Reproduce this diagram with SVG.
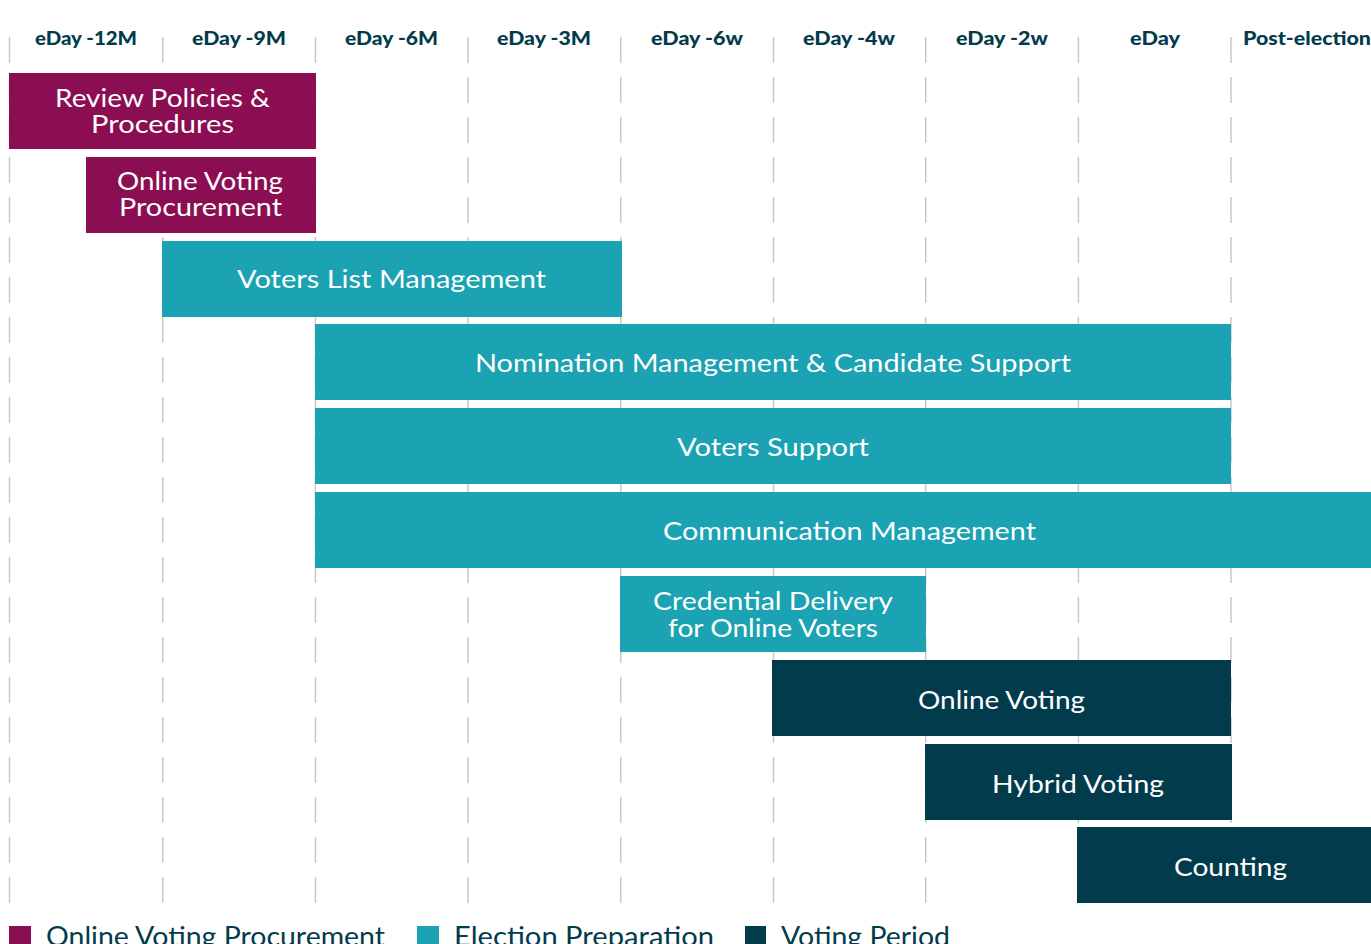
<svg xmlns="http://www.w3.org/2000/svg" width="1371" height="944" viewBox="0 0 1371 944">
<style>
.grid line{stroke:#c8c8c8;stroke-width:1.5;stroke-dasharray:26 14}
.hd{font-family:Lato,"Liberation Sans",sans-serif;font-weight:900;font-size:19px;fill:#023b4b;text-anchor:middle}
.lb{font-family:Lato,"Liberation Sans",sans-serif;font-size:25px;fill:#ffffff;text-anchor:middle}
.lg{font-family:Lato,"Liberation Sans",sans-serif;font-size:26px;fill:#023b4b}
.p{fill:#8b0d52}.t{fill:#1ba2b3}.d{fill:#023b4b}
</style>
<rect width="1371" height="944" fill="#ffffff"/>
<g id="grid" class="grid">
<line x1="9.5" y1="37" x2="9.5" y2="903"/>
<line x1="162.7" y1="37" x2="162.7" y2="903"/>
<line x1="315.4" y1="37" x2="315.4" y2="903"/>
<line x1="468.1" y1="37" x2="468.1" y2="903"/>
<line x1="620.8" y1="37" x2="620.8" y2="903"/>
<line x1="773.5" y1="37" x2="773.5" y2="903"/>
<line x1="925.7" y1="37" x2="925.7" y2="903"/>
<line x1="1078.4" y1="37" x2="1078.4" y2="903"/>
<line x1="1231" y1="37" x2="1231" y2="903"/>
</g>
<g id="headers">
<text class="hd" x="86" y="45" textLength="102" lengthAdjust="spacingAndGlyphs">eDay -12M</text>
<text class="hd" x="239" y="45" textLength="94" lengthAdjust="spacingAndGlyphs">eDay -9M</text>
<text class="hd" x="391.5" y="45" textLength="93" lengthAdjust="spacingAndGlyphs">eDay -6M</text>
<text class="hd" x="544" y="45" textLength="94" lengthAdjust="spacingAndGlyphs">eDay -3M</text>
<text class="hd" x="697" y="45" textLength="92" lengthAdjust="spacingAndGlyphs">eDay -6w</text>
<text class="hd" x="849" y="45" textLength="92" lengthAdjust="spacingAndGlyphs">eDay -4w</text>
<text class="hd" x="1002" y="45" textLength="92" lengthAdjust="spacingAndGlyphs">eDay -2w</text>
<text class="hd" x="1155" y="45" textLength="50" lengthAdjust="spacingAndGlyphs">eDay</text>
<text class="hd" x="1307" y="45" textLength="128" lengthAdjust="spacingAndGlyphs">Post-election</text>
</g>
<g id="review">
<rect class="p" x="9" y="73" width="307" height="76"/>
<text class="lb" x="162.5" y="107" textLength="215" lengthAdjust="spacingAndGlyphs">Review Policies &amp;</text>
<text class="lb" x="162.5" y="133" textLength="143" lengthAdjust="spacingAndGlyphs">Procedures</text>
</g>
<g id="procurement">
<rect class="p" x="86" y="157" width="230" height="76"/>
<text class="lb" x="200" y="190" textLength="166" lengthAdjust="spacingAndGlyphs">Online Voting</text>
<text class="lb" x="200.5" y="216" textLength="163" lengthAdjust="spacingAndGlyphs">Procurement</text>
</g>
<g id="voterslist">
<rect class="t" x="162" y="241" width="460" height="76"/>
<text class="lb" x="391.5" y="288" textLength="309" lengthAdjust="spacingAndGlyphs">Voters List Management</text>
</g>
<g id="nomination">
<rect class="t" x="315" y="324" width="916" height="76"/>
<text class="lb" x="773" y="372" textLength="596" lengthAdjust="spacingAndGlyphs">Nomination Management &amp; Candidate Support</text>
</g>
<g id="voterssupport">
<rect class="t" x="315" y="408" width="916" height="76"/>
<text class="lb" x="773" y="456" textLength="192" lengthAdjust="spacingAndGlyphs">Voters Support</text>
</g>
<g id="communication">
<rect class="t" x="315" y="492" width="1056" height="76"/>
<text class="lb" x="849.5" y="540" textLength="373" lengthAdjust="spacingAndGlyphs">Communication Management</text>
</g>
<g id="credential">
<rect class="t" x="620" y="576" width="306" height="76"/>
<text class="lb" x="773" y="610" textLength="240" lengthAdjust="spacingAndGlyphs">Credential Delivery</text>
<text class="lb" x="773" y="637" textLength="210" lengthAdjust="spacingAndGlyphs">for Online Voters</text>
</g>
<g id="onlinevoting">
<rect class="d" x="772" y="660" width="459" height="76"/>
<text class="lb" x="1001.5" y="709" textLength="167" lengthAdjust="spacingAndGlyphs">Online Voting</text>
</g>
<g id="hybrid">
<rect class="d" x="925" y="744" width="307" height="76"/>
<text class="lb" x="1078" y="793" textLength="172" lengthAdjust="spacingAndGlyphs">Hybrid Voting</text>
</g>
<g id="counting">
<rect class="d" x="1077" y="827" width="294" height="76"/>
<text class="lb" x="1230.5" y="876" textLength="113" lengthAdjust="spacingAndGlyphs">Counting</text>
</g>
<g id="connectors"/>
<g id="legend">
<rect class="p" x="9" y="926" width="22" height="20"/>
<text class="lg" x="46" y="946" textLength="339" lengthAdjust="spacingAndGlyphs">Online Voting Procurement</text>
<rect class="t" x="417" y="926" width="22" height="20"/>
<text class="lg" x="454" y="946" textLength="260" lengthAdjust="spacingAndGlyphs">Election Preparation</text>
<rect class="d" x="745" y="926" width="21" height="20"/>
<text class="lg" x="781" y="946" textLength="169" lengthAdjust="spacingAndGlyphs">Voting Period</text>
</g>
</svg>
